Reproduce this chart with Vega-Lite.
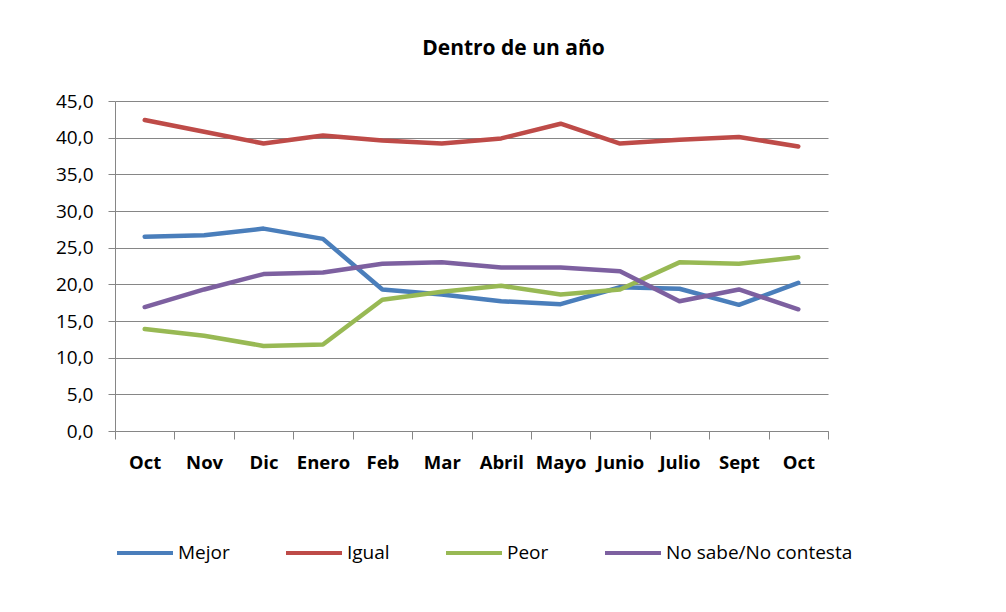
{
  "$schema": "https://vega.github.io/schema/vega-lite/v6.json",
  "width": 713,
  "height": 330,
  "autosize": "none",
  "padding": {"left": 115, "top": 101, "right": 178, "bottom": 181},
  "background": "white",
  "title": {
    "text": "Dentro de un año",
    "font": "Open Sans",
    "fontSize": 21,
    "fontWeight": "bold",
    "color": "#000000",
    "offset": 33,
    "dx": 42,
    "anchor": "middle"
  },
  "config": {
    "view": {"stroke": null},
    "font": "Open Sans"
  },
  "data": {
    "values": [
      {"i": 0, "serie": "Mejor", "v": 26.5},
      {"i": 1, "serie": "Mejor", "v": 26.7},
      {"i": 2, "serie": "Mejor", "v": 27.6},
      {"i": 3, "serie": "Mejor", "v": 26.2},
      {"i": 4, "serie": "Mejor", "v": 19.3},
      {"i": 5, "serie": "Mejor", "v": 18.6},
      {"i": 6, "serie": "Mejor", "v": 17.7},
      {"i": 7, "serie": "Mejor", "v": 17.3},
      {"i": 8, "serie": "Mejor", "v": 19.6},
      {"i": 9, "serie": "Mejor", "v": 19.4},
      {"i": 10, "serie": "Mejor", "v": 17.2},
      {"i": 11, "serie": "Mejor", "v": 20.2},
      {"i": 0, "serie": "Igual", "v": 42.4},
      {"i": 1, "serie": "Igual", "v": 40.8},
      {"i": 2, "serie": "Igual", "v": 39.2},
      {"i": 3, "serie": "Igual", "v": 40.3},
      {"i": 4, "serie": "Igual", "v": 39.6},
      {"i": 5, "serie": "Igual", "v": 39.2},
      {"i": 6, "serie": "Igual", "v": 39.9},
      {"i": 7, "serie": "Igual", "v": 41.9},
      {"i": 8, "serie": "Igual", "v": 39.2},
      {"i": 9, "serie": "Igual", "v": 39.7},
      {"i": 10, "serie": "Igual", "v": 40.1},
      {"i": 11, "serie": "Igual", "v": 38.8},
      {"i": 0, "serie": "Peor", "v": 13.9},
      {"i": 1, "serie": "Peor", "v": 13.0},
      {"i": 2, "serie": "Peor", "v": 11.6},
      {"i": 3, "serie": "Peor", "v": 11.8},
      {"i": 4, "serie": "Peor", "v": 17.9},
      {"i": 5, "serie": "Peor", "v": 19.0},
      {"i": 6, "serie": "Peor", "v": 19.8},
      {"i": 7, "serie": "Peor", "v": 18.6},
      {"i": 8, "serie": "Peor", "v": 19.3},
      {"i": 9, "serie": "Peor", "v": 23.0},
      {"i": 10, "serie": "Peor", "v": 22.8},
      {"i": 11, "serie": "Peor", "v": 23.7},
      {"i": 0, "serie": "No sabe/No contesta", "v": 16.9},
      {"i": 1, "serie": "No sabe/No contesta", "v": 19.3},
      {"i": 2, "serie": "No sabe/No contesta", "v": 21.4},
      {"i": 3, "serie": "No sabe/No contesta", "v": 21.6},
      {"i": 4, "serie": "No sabe/No contesta", "v": 22.8},
      {"i": 5, "serie": "No sabe/No contesta", "v": 23.0},
      {"i": 6, "serie": "No sabe/No contesta", "v": 22.3},
      {"i": 7, "serie": "No sabe/No contesta", "v": 22.3},
      {"i": 8, "serie": "No sabe/No contesta", "v": 21.8},
      {"i": 9, "serie": "No sabe/No contesta", "v": 17.7},
      {"i": 10, "serie": "No sabe/No contesta", "v": 19.3},
      {"i": 11, "serie": "No sabe/No contesta", "v": 16.6}
    ]
  },
  "mark": {"type": "line", "strokeWidth": 4.5, "strokeCap": "round", "strokeJoin": "round"},
  "encoding": {
    "x": {
      "field": "i",
      "type": "ordinal",
      "scale": {"type": "band", "paddingInner": 0, "paddingOuter": 0},
      "axis": {
        "title": null,
        "labelAngle": 0,
        "labelExpr": "['Oct','Nov','Dic','Enero','Feb','Mar','Abril','Mayo','Junio','Julio','Sept','Oct'][datum.value]",
        "labelFont": "Open Sans",
        "labelFontSize": 18.5,
        "labelFontWeight": "bold",
        "labelColor": "#000000",
        "labelPadding": 14,
        "tickBand": "extent",
        "tickSize": 8,
        "tickColor": "#868686",
        "domainColor": "#868686",
        "grid": false
      }
    },
    "y": {
      "field": "v",
      "type": "quantitative",
      "scale": {"domain": [0, 45]},
      "axis": {
        "title": null,
        "values": [0, 5, 10, 15, 20, 25, 30, 35, 40, 45],
        "labelExpr": "replace(format(datum.value, '.1f'), '.', ',')",
        "labelFont": "Open Sans",
        "labelFontSize": 19,
        "labelColor": "#000000",
        "labelPadding": 15,
        "tickSize": 7,
        "tickColor": "#868686",
        "domainColor": "#868686",
        "gridColor": "#868686",
        "gridWidth": 1,
        "gridOpacity": 1
      }
    },
    "color": {
      "field": "serie",
      "type": "nominal",
      "scale": {
        "domain": ["Mejor", "Igual", "Peor", "No sabe/No contesta"],
        "range": ["#4A7EBB", "#BE4B48", "#98B954", "#7D60A0"]
      },
      "legend": {
        "title": null,
        "orient": "none",
        "legendX": 0,
        "legendY": 422,
        "direction": "horizontal",
        "symbolType": "stroke",
        "symbolSize": 3136,
        "symbolStrokeWidth": 4,
        "labelFont": "Open Sans",
        "labelFontSize": 19,
        "labelLimit": 0,
        "labelColor": "#000000",
        "labelOffset": 3,
        "columnPadding": 48
      }
    }
  }
}
